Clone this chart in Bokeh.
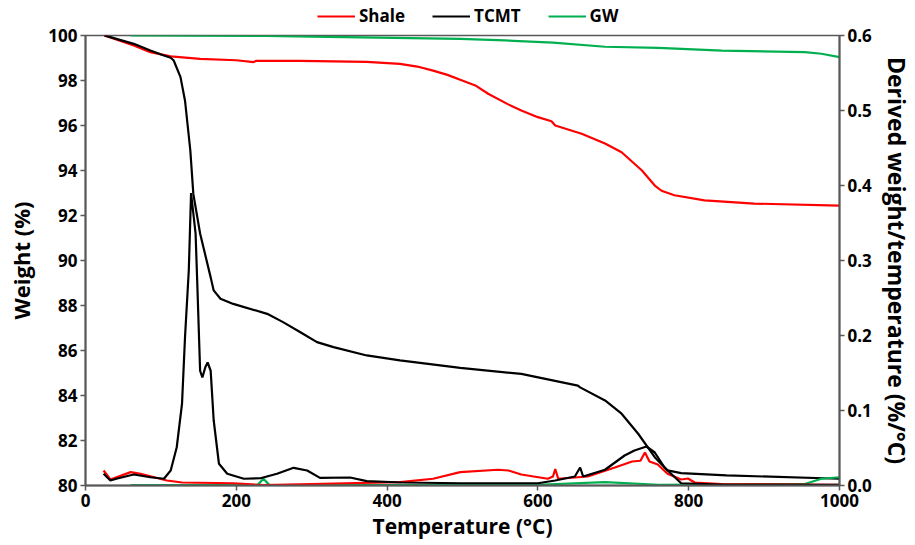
from bokeh.plotting import figure
from bokeh.layouts import column
from bokeh.models import Range1d, LinearAxis, FixedTicker, NumeralTickFormatter, Legend, LegendItem
from bokeh.embed import file_html
from bokeh.resources import INLINE

# Weight curves (left axis, %)
shale_w_t = [25, 64, 86, 113, 152, 200, 223, 226, 285, 373, 417, 440, 461, 480, 497, 517, 534, 560, 578, 600, 618, 623, 658, 689, 711, 738, 755, 764, 781, 821, 887, 1000]
shale_w   = [100, 99.56, 99.26, 99.07, 98.96, 98.9, 98.82, 98.87, 98.87, 98.83, 98.74, 98.62, 98.44, 98.25, 98.03, 97.78, 97.41, 96.95, 96.67, 96.37, 96.19, 96.0, 95.63, 95.2, 94.81, 94.0, 93.33, 93.1, 92.9, 92.67, 92.53, 92.44]

tcmt_w_t = [25, 33, 64, 86, 104, 113, 117, 126, 132, 139, 143, 152, 166, 170, 179, 196, 241, 262, 285, 307, 329, 373, 417, 497, 578, 653, 656, 689, 711, 733, 755, 772, 790, 850, 1000]
tcmt_w   = [100, 99.93, 99.63, 99.33, 99.11, 99.01, 98.89, 98.15, 97.1, 94.9, 92.96, 91.2, 89.25, 88.67, 88.3, 88.07, 87.63, 87.26, 86.81, 86.37, 86.15, 85.78, 85.56, 85.23, 84.96, 84.44, 84.36, 83.78, 83.19, 82.3, 81.26, 80.67, 80.55, 80.45, 80.3]

gw_w_t = [60, 240, 300, 497, 556, 620, 689, 760, 844, 954, 976, 1000]
gw_w   = [100, 99.98, 99.95, 99.85, 99.78, 99.68, 99.5, 99.45, 99.33, 99.26, 99.19, 99.04]

# Derivative curves (right axis, %/°C)
tcmt_d_t = [24, 33, 41, 64, 86, 104, 113, 121, 128, 132, 137, 140, 146, 148, 152, 155, 159, 162, 166, 170, 177, 188, 210, 232, 254, 276, 294, 311, 351, 373, 420, 497, 600, 623, 649, 656, 660, 689, 715, 728, 744, 755, 768, 790, 850, 1000]
tcmt_d   = [0.0156, 0.0067, 0.009, 0.0147, 0.011, 0.009, 0.02, 0.051, 0.109, 0.198, 0.287, 0.39, 0.336, 0.277, 0.153, 0.144, 0.158, 0.164, 0.153, 0.087, 0.029, 0.0156, 0.009, 0.0097, 0.0156, 0.0236, 0.02, 0.0102, 0.0107, 0.0058, 0.004, 0.003, 0.003, 0.0067, 0.012, 0.024, 0.012, 0.021, 0.04, 0.0467, 0.052, 0.044, 0.024, 0.003, 0.001, 0.001]

shale_d_t = [24, 33, 60, 73, 108, 128, 196, 236, 300, 417, 461, 497, 547, 561, 578, 613, 620, 623, 627, 666, 702, 725, 736, 742, 748, 759, 772, 790, 799, 808, 843, 1000]
shale_d   = [0.02, 0.008, 0.0178, 0.0156, 0.0067, 0.004, 0.003, 0.0005, 0.002, 0.0044, 0.009, 0.0178, 0.021, 0.02, 0.0147, 0.009, 0.012, 0.022, 0.009, 0.012, 0.024, 0.032, 0.033, 0.044, 0.032, 0.028, 0.0156, 0.008, 0.0093, 0.004, 0.002, 0.001]

gw_d_t = [60, 228, 236, 244, 500, 556, 600, 689, 760, 954, 976, 1000]
gw_d   = [0.0005, 0.0005, 0.009, 0.0005, 0.0005, 0.002, 0.001, 0.0044, 0.001, 0.002, 0.009, 0.011]

legend_labels = ["Shale", "TCMT", "GW"]
colors = ["#ff0000", "#000000", "#00b050"]

FONT = "Open Sans"
AXC = "#595959"
W = 915
LEFT, RIGHT = 85, 75

p = figure(width=W, height=519, output_backend="svg", toolbar_location=None,
           x_range=Range1d(0, 1000), y_range=Range1d(80, 100),
           min_border_left=LEFT, min_border_right=RIGHT, min_border_top=11, min_border_bottom=58)
p.extra_y_ranges = {"dtg": Range1d(0, 0.6)}
p.xgrid.visible = False
p.ygrid.visible = False
p.outline_line_color = AXC
p.outline_line_width = 1.5

lw = 2.2
p.line(shale_w_t, shale_w, line_color=colors[0], line_width=lw)
p.line(tcmt_w_t, tcmt_w, line_color=colors[1], line_width=lw)
p.line(gw_w_t, gw_w, line_color=colors[2], line_width=lw)
p.line(gw_d_t, gw_d, line_color=colors[2], line_width=lw, y_range_name="dtg")
p.line(shale_d_t, shale_d, line_color=colors[0], line_width=lw, y_range_name="dtg")
p.line(tcmt_d_t, tcmt_d, line_color=colors[1], line_width=lw, y_range_name="dtg")

def style(ax, title_size="21px"):
    ax.axis_line_color = AXC
    ax.axis_line_width = 2
    ax.major_tick_line_color = AXC
    ax.major_tick_line_width = 1.5
    ax.major_tick_out = 5
    ax.major_tick_in = 0
    ax.minor_tick_line_color = None
    ax.major_label_text_font = FONT
    ax.major_label_text_font_style = "bold"
    ax.major_label_text_font_size = "17px"
    ax.major_label_text_color = "black"
    ax.major_label_standoff = 3
    ax.axis_label_text_font = FONT
    ax.axis_label_text_font_style = "bold"
    ax.axis_label_text_font_size = title_size
    ax.axis_label_text_color = "black"

p.xaxis.ticker = FixedTicker(ticks=[0, 200, 400, 600, 800, 1000])
p.xaxis.axis_label = "Temperature (°C)"
p.yaxis.ticker = FixedTicker(ticks=list(range(80, 101, 2)))
p.yaxis.axis_label = "Weight (%)"
style(p.xaxis[0], "21px")
style(p.yaxis[0], "22px")
p.xaxis.axis_label_standoff = 2
p.yaxis.axis_label_standoff = 9

ax2 = LinearAxis(y_range_name="dtg", axis_label="Derived weight/temperature (%/°C)",
                 ticker=FixedTicker(ticks=[0, 0.1, 0.2, 0.3, 0.4, 0.5, 0.6]),
                 formatter=NumeralTickFormatter(format="0.0"))
style(ax2, "23px")
ax2.axis_label_standoff = 6
p.add_layout(ax2, "right")

# Legend strip above the plot (its frame is aligned with the main frame by the column)
lg = figure(width=W, height=24, output_backend="svg", toolbar_location=None,
            x_axis_type=None, y_axis_type=None,
            x_range=Range1d(0, 1), y_range=Range1d(0, 1),
            min_border_left=LEFT, min_border_right=RIGHT, min_border_top=0, min_border_bottom=0)
lg.grid.visible = False
lg.outline_line_color = None
lrs = [lg.line([5, 6], [5, 6], line_color=c, line_width=lw) for c in colors]
legend = Legend(items=[LegendItem(label=lab, renderers=[r]) for lab, r in zip(legend_labels, lrs)],
                orientation="horizontal", location=(317 - LEFT, -3),
                label_text_font=FONT, label_text_font_style="bold", label_text_font_size="17px",
                label_text_color="black",
                glyph_width=38, spacing=27, padding=0, margin=0,
                border_line_color=None, background_fill_alpha=0,
                label_standoff=4, label_height=18, glyph_height=18)
lg.add_layout(legend, "center")

layout = column(lg, p, spacing=0)
open("out.html", "w").write(file_html(layout, INLINE))
